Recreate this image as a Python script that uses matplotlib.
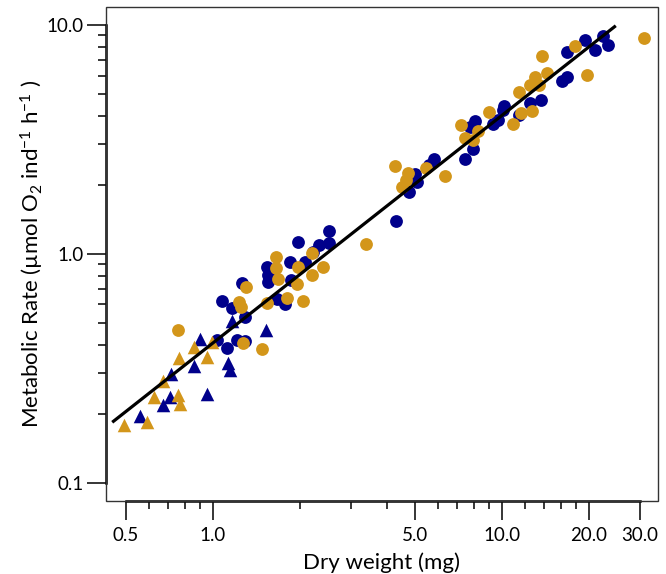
import matplotlib
matplotlib.use("Agg")
import matplotlib.pyplot as plt
import numpy as np
from matplotlib.patches import Rectangle

plt.rcParams['font.family'] = ['Lato', 'DejaVu Sans']
plt.rcParams['mathtext.fontset'] = 'custom'
plt.rcParams['mathtext.rm'] = 'Lato'
plt.rcParams['mathtext.it'] = 'Lato:italic'
plt.rcParams['mathtext.bf'] = 'Lato:bold'

NAVY = '#00008B'
GOLD = '#D3961A'

# ---- data ----
navy_circ_x = [1.03, 1.115, 1.207, 1.29, 1.072, 1.16, 1.29, 1.256, 1.542, 1.554, 1.547,
               1.846, 2.08, 1.87, 1.66, 1.774, 1.974, 2.224, 2.33, 2.526, 2.526, 4.30,
               5.0, 5.09, 4.78, 5.82, 5.6, 7.45, 7.92, 7.75, 8.07, 9.33, 9.7, 10.1, 10.2,
               11.5, 12.5, 13.7, 16.2, 16.8, 16.75, 19.4, 21.0, 22.4, 23.4]
navy_circ_y = [0.42, 0.386, 0.42, 0.415, 0.624, 0.578, 0.531, 0.743, 0.878, 0.808, 0.755,
               0.924, 0.924, 0.768, 0.632, 0.603, 1.123, 1.02, 1.09, 1.258, 1.118, 1.395,
               2.23, 2.065, 1.857, 2.59, 2.44, 2.6, 2.86, 3.59, 3.78, 3.69, 3.84, 4.25, 4.40,
               4.04, 4.55, 4.67, 5.65, 5.9, 7.57, 8.54, 7.77, 8.89, 8.17]

gold_circ_x = [0.757, 1.267, 1.477, 1.233, 1.247, 1.297, 1.652, 1.649, 1.683, 1.974, 1.948,
               1.80, 1.54, 2.053, 2.21, 2.397, 2.21, 3.376, 4.26, 4.72, 4.67, 4.53, 5.46,
               6.38, 7.2, 7.45, 8.27, 7.95, 9.0, 10.94, 11.5, 11.67, 12.7, 12.5, 13.0, 13.5,
               14.35, 13.8, 17.9, 19.7, 31.1]
gold_circ_y = [0.465, 0.409, 0.383, 0.616, 0.587, 0.718, 0.965, 0.864, 0.774, 0.873, 0.738,
               0.639, 0.611, 0.624, 1.01, 0.873, 0.808, 1.104, 2.42, 2.26, 2.10, 1.963, 2.36,
               2.19, 3.65, 3.20, 3.42, 3.14, 4.15, 3.68, 5.1, 4.11, 4.22, 5.47, 5.9, 5.47,
               6.15, 7.31, 8.09, 6.04, 8.74]

navy_tri_x = [0.559, 0.670, 0.710, 0.716, 0.951, 0.860, 0.902, 1.124, 1.142, 1.16, 1.525]
navy_tri_y = [0.1955, 0.2184, 0.2375, 0.2984, 0.244, 0.3234, 0.423, 0.332, 0.31, 0.51, 0.465]

gold_tri_x = [0.493, 0.590, 0.625, 0.673, 0.755, 0.771, 0.765, 0.951, 0.862, 0.994]
gold_tri_y = [0.1786, 0.1846, 0.2375, 0.279, 0.2415, 0.2207, 0.3496, 0.3530, 0.390, 0.413]

# fitted line: y = a * x^b
fit_a = 0.4075
fit_b = 0.9935
fit_x_range = [0.448, 24.8]

x_major = [0.5, 1, 5, 10, 20, 30]
x_major_labels = ['0.5', '1.0', '5.0', '10.0', '20.0', '30.0']
x_minor = [0.6, 0.7, 0.8, 0.9, 2, 3, 4, 6, 7, 8, 9, 12, 14, 16, 18]
y_major = [0.1, 1, 10]
y_major_labels = ['0.1', '1.0', '10.0']
y_minor = [v * d for d in (0.1, 1) for v in range(2, 10)]

# ---- figure ----
fig = plt.figure(figsize=(6.66, 5.74), dpi=100)
ax = fig.add_axes([0.1587, 0.1277, 0.9884 - 0.1587, 0.9878 - 0.1277])
ax.set_xscale('log')
ax.set_yscale('log')
ax.set_xlim(0.4253, 34.8)
ax.set_ylim(0.0834, 11.95)

ax.scatter(navy_circ_x, navy_circ_y, s=85, marker='o', color=NAVY, linewidths=0, zorder=3)
ax.scatter(gold_circ_x, gold_circ_y, s=85, marker='o', color=GOLD, linewidths=0, zorder=3)
ax.scatter(navy_tri_x, navy_tri_y, s=95, marker='^', color=NAVY, linewidths=0, zorder=3)
ax.scatter(gold_tri_x, gold_tri_y, s=95, marker='^', color=GOLD, linewidths=0, zorder=3)

lx = np.array(fit_x_range)
ax.plot(lx, fit_a * lx ** fit_b, color='black', lw=2.3, zorder=4, solid_capstyle='butt')

# axes styling (base-R like)
for s in ('top', 'right'):
    ax.spines[s].set_visible(False)
ax.spines['left'].set_bounds(0.1, 10)
ax.spines['bottom'].set_bounds(0.5, 30)
ax.spines['left'].set_linewidth(1.8)
ax.spines['bottom'].set_linewidth(1.8)
ax.add_patch(Rectangle((0, 0), 1, 1, transform=ax.transAxes, fill=False,
                       edgecolor='#333333', lw=1.0, zorder=5, clip_on=False))

ax.set_xticks(x_major)
ax.set_xticklabels(x_major_labels)
ax.set_xticks(x_minor, minor=True)
ax.set_xticklabels([], minor=True)
ax.set_yticks(y_major)
ax.set_yticklabels(y_major_labels)
ax.set_yticks(y_minor, minor=True)
ax.set_yticklabels([], minor=True)

ax.tick_params(which='major', length=14, width=1.1, labelsize=13.5)
ax.tick_params(which='minor', length=5.5, width=1.1)
ax.tick_params(axis='x', which='major', pad=5)
ax.tick_params(axis='y', which='major', pad=2)

ax.set_xlabel('Dry weight (mg)', fontsize=16, labelpad=6)
ax.set_ylabel(r'Metabolic Rate (µmol O$_2$ ind$^{-1}$ h$^{-1}$ )', fontsize=16, labelpad=0)

fig.savefig('out.png', dpi=100)
